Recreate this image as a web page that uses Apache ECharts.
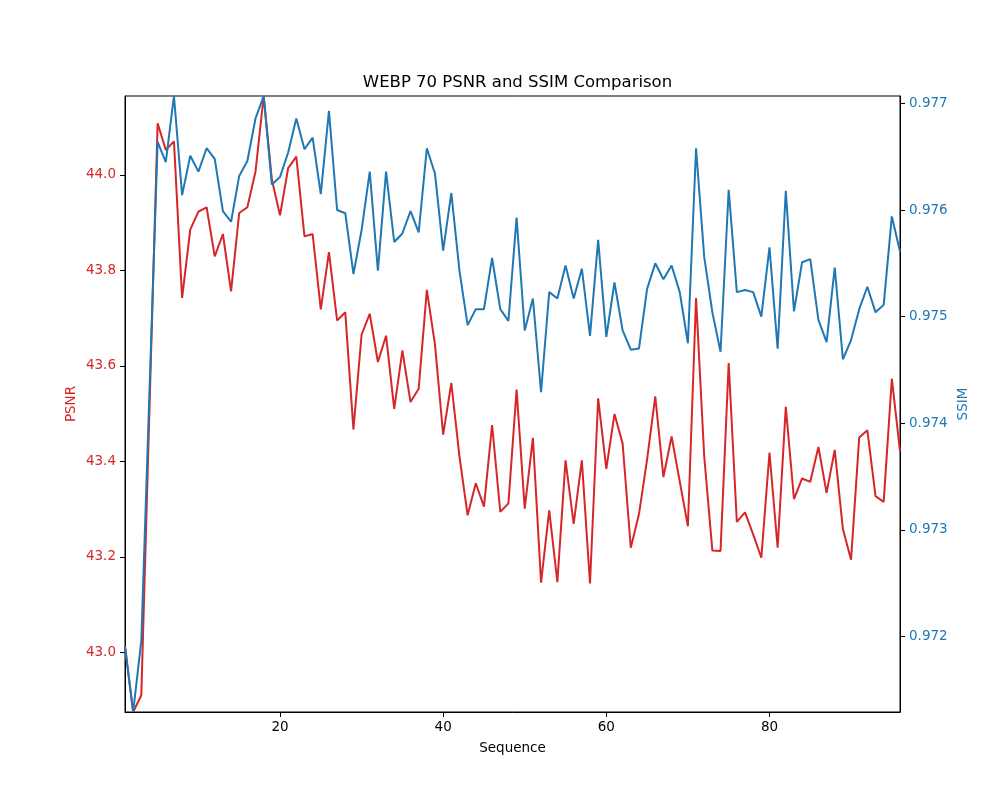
<!DOCTYPE html>
<html>
<head>
<meta charset="utf-8">
<title>WEBP 70 PSNR and SSIM Comparison</title>
<script src="https://cdn.jsdelivr.net/npm/echarts@6/dist/echarts.min.js"></script>
<style>
  html,body{margin:0;padding:0;background:#fff;}
  #chart{width:1000px;height:800px;}
</style>
</head>
<body>
<div id="chart"></div>
<script>
// values, sequence 1..96
const psnr = [
  43.013, 42.875, 42.910, 43.510, 44.108, 44.052, 44.070, 43.742, 43.885, 43.923,
  43.932, 43.829, 43.876, 43.756, 43.920, 43.932, 44.007, 44.165, 43.990, 43.915,
  44.014, 44.038, 43.871, 43.876, 43.718, 43.838, 43.695, 43.712, 43.467, 43.665,
  43.709, 43.608, 43.663, 43.510, 43.632, 43.524, 43.552, 43.759, 43.644, 43.456,
  43.564, 43.410, 43.287, 43.354, 43.305, 43.476, 43.294, 43.312, 43.550, 43.301,
  43.449, 43.146, 43.297, 43.147, 43.402, 43.269, 43.402, 43.144, 43.532, 43.384,
  43.499, 43.437, 43.219, 43.289, 43.404, 43.536, 43.367, 43.452, 43.358, 43.264,
  43.742, 43.410, 43.213, 43.212, 43.606, 43.273, 43.293, 43.247, 43.198, 43.418,
  43.219, 43.514, 43.321, 43.364, 43.357, 43.430, 43.334, 43.424, 43.258, 43.194,
  43.450, 43.465, 43.327, 43.315, 43.573, 43.421
];
const ssim = [
  0.97190, 0.97129, 0.97196, 0.97430, 0.97664, 0.97645, 0.97707, 0.97614, 0.97651, 0.97636,
  0.97658, 0.97648, 0.97599, 0.97589, 0.97632, 0.97646, 0.97686, 0.97707, 0.97624, 0.97631,
  0.97654, 0.97686, 0.97657, 0.97668, 0.97615, 0.97693, 0.97600, 0.97597, 0.97540, 0.97581,
  0.97636, 0.97543, 0.97636, 0.97570, 0.97578, 0.97599, 0.97579, 0.97658, 0.97634, 0.97562,
  0.97616, 0.97543, 0.97492, 0.97507, 0.97507, 0.97555, 0.97507, 0.97496, 0.97593, 0.97487,
  0.97517, 0.97429, 0.97523, 0.97517, 0.97548, 0.97517, 0.97545, 0.97482, 0.97572, 0.97481,
  0.97532, 0.97487, 0.97469, 0.97470, 0.97526, 0.97550, 0.97535, 0.97548, 0.97523, 0.97475,
  0.97658, 0.97556, 0.97504, 0.97467, 0.97619, 0.97523, 0.97525, 0.97523, 0.97500, 0.97565,
  0.97470, 0.97618, 0.97505, 0.97551, 0.97554, 0.97497, 0.97476, 0.97546, 0.97460, 0.97478,
  0.97507, 0.97528, 0.97504, 0.97511, 0.97594, 0.97561
];
const xTicks = [20, 40, 60, 80];
const psnrTicks = [43.0, 43.2, 43.4, 43.6, 43.8, 44.0];
const ssimTicks = [0.972, 0.973, 0.974, 0.975, 0.976, 0.977];

const RED = '#d62728', BLUE = '#1f77b4';
const FONT = 'DejaVu Sans';

const seq = psnr.map((v, i) => i + 1);
const psnrData = psnr.map((v, i) => [seq[i], v]);
const ssimData = ssim.map((v, i) => [seq[i], v]);

const chart = echarts.init(document.getElementById('chart'), null, {renderer: 'canvas'});

function yAxis(side, color, ticks, digits, name, lo, hi, gap){
  return {
    type: 'value', position: side, min: lo, max: hi,
    name: name, nameLocation: 'middle', nameGap: gap, nameRotate: 90,
    nameMoveOverlap: false,
    nameTextStyle: {color: color, fontFamily: FONT, fontSize: 13.5},
    axisLine: {show: true, lineStyle: {color: '#000', width: 1}},
    axisTick: {show: true, length: 5, lineStyle: {color: '#000'}, customValues: ticks},
    axisLabel: {color: color, fontFamily: FONT, fontSize: 13.5, margin: 9,
      customValues: ticks, formatter: v => v.toFixed(digits)},
    splitLine: {show: false}
  };
}

chart.setOption({
  animation: false,
  backgroundColor: '#fff',
  title: {
    text: 'WEBP 70 PSNR and SSIM Comparison',
    left: 512.5, top: 69, textAlign: 'center',
    textStyle: {fontFamily: FONT, fontSize: 16.5, fontWeight: 'normal', color: '#000'}
  },
  grid: {left: 125, right: 100, top: 96, bottom: 88, show: true,
    borderColor: '#000', borderWidth: 1, backgroundColor: '#fff'},
  xAxis: {
    type: 'value', min: 1, max: seq.length,
    name: 'Sequence', nameLocation: 'middle', nameGap: 29, nameMoveOverlap: false,
    nameTextStyle: {color: '#000', fontFamily: FONT, fontSize: 13.5},
    axisLine: {show: true, lineStyle: {color: '#000', width: 1}},
    axisTick: {show: true, length: 5, lineStyle: {color: '#000'}, customValues: xTicks},
    axisLabel: {color: '#000', fontFamily: FONT, fontSize: 13.5, margin: 8, customValues: xTicks},
    splitLine: {show: false}
  },
  yAxis: [
    yAxis('left', RED, psnrTicks, 1, 'PSNR', Math.min(...psnr), Math.max(...psnr), 47),
    yAxis('right', BLUE, ssimTicks, 3, 'SSIM', Math.min(...ssim), Math.max(...ssim), 56)
  ],
  series: [
    {name: 'PSNR', type: 'line', yAxisIndex: 0, data: psnrData, showSymbol: false,
      lineStyle: {color: RED, width: 2}, itemStyle: {color: RED}, clip: true},
    {name: 'SSIM', type: 'line', yAxisIndex: 1, data: ssimData, showSymbol: false,
      lineStyle: {color: BLUE, width: 2}, itemStyle: {color: BLUE}, clip: true}
  ]
});
</script>
</body>
</html>
